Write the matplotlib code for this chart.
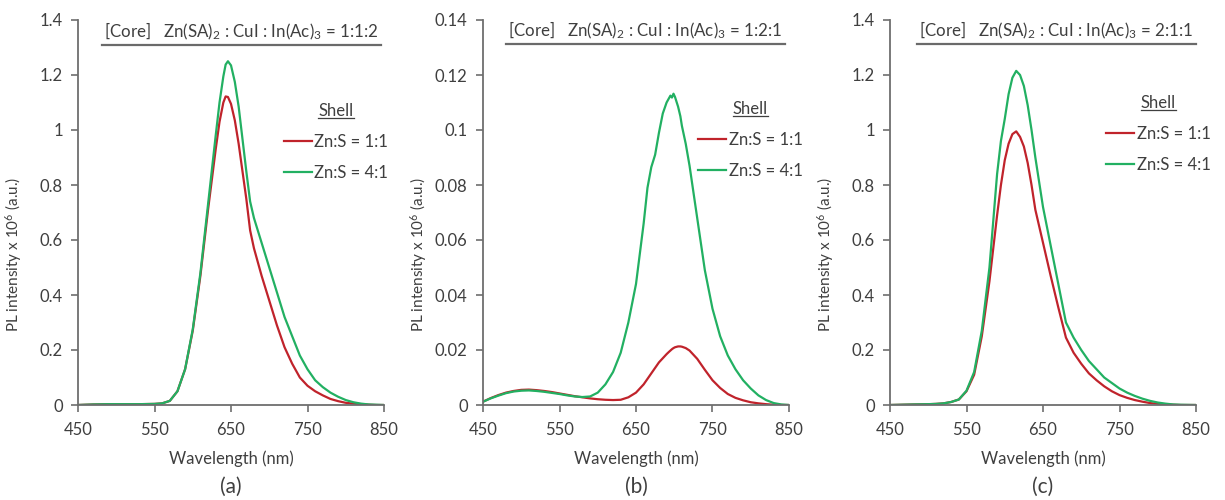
import matplotlib
matplotlib.use("Agg")
import matplotlib.pyplot as plt
from matplotlib.lines import Line2D
from matplotlib.ticker import FuncFormatter, MultipleLocator

plt.rcParams["font.family"] = ["Lato", "DejaVu Sans"]
plt.rcParams["mathtext.fontset"] = "custom"
plt.rcParams["mathtext.rm"] = "Lato"
plt.rcParams["mathtext.it"] = "Lato:italic"
plt.rcParams["mathtext.bf"] = "Lato:bold"

# ---------------- data ----------------
series_labels = ["Zn:S = 1:1", "Zn:S = 4:1"]
panel_tags = ["(a)", "(b)", "(c)"]
core_ratios = ["1:1:2", "1:2:1", "2:1:1"]
x_ticks = [450, 550, 650, 750, 850]

# (a) core 1:1:2
wl_a = [450, 470, 490, 510, 530, 550, 560, 570, 580, 590, 600, 610, 620, 630, 635,
        640, 643, 646, 650, 655, 660, 670, 675, 680, 690, 700, 710, 720, 730, 740,
        750, 760, 770, 780, 790, 800, 810, 820, 830, 840, 850]
red_a = [0.000, 0.002, 0.003, 0.003, 0.003, 0.004, 0.006, 0.015, 0.050, 0.130,
         0.270, 0.470, 0.710, 0.930, 1.030, 1.100, 1.122, 1.120, 1.095, 1.035,
         0.950, 0.750, 0.635, 0.570, 0.470, 0.380, 0.290, 0.210, 0.150, 0.100,
         0.070, 0.050, 0.035, 0.022, 0.014, 0.008, 0.005, 0.003, 0.001, 0.000, 0.000]
green_a = [0.000, 0.002, 0.003, 0.003, 0.003, 0.004, 0.006, 0.015, 0.050, 0.130,
           0.275, 0.480, 0.730, 0.980, 1.100, 1.195, 1.238, 1.250, 1.235, 1.175,
           1.085, 0.850, 0.740, 0.680, 0.590, 0.500, 0.410, 0.320, 0.250, 0.180,
           0.130, 0.090, 0.065, 0.045, 0.030, 0.018, 0.010, 0.005, 0.002, 0.001, 0.000]

# (b) core 1:2:1
wl_b = [450, 460, 470, 480, 490, 500, 510, 520, 530, 540, 550, 560, 570, 580, 590,
        600, 610, 620, 630, 640, 650, 660, 665, 670, 675, 680, 685, 690, 693, 695,
        697, 699, 701, 705, 708, 710, 715, 720, 730, 740, 750, 760, 770, 780, 790,
        800, 810, 820, 830, 840, 850]
red_b = [0.0012, 0.0025, 0.0036, 0.0045, 0.0051, 0.0055, 0.0056, 0.0054, 0.0051,
         0.0047, 0.0042, 0.0037, 0.0032, 0.0028, 0.0024, 0.0021, 0.0019, 0.0018,
         0.0019, 0.0028, 0.0045, 0.0075, 0.0095, 0.0115, 0.0135, 0.0155, 0.0170,
         0.0185, 0.0193, 0.0198, 0.0203, 0.0207, 0.0210, 0.0213, 0.0213, 0.0212,
         0.0207, 0.0198, 0.0168, 0.0128, 0.0090, 0.0062, 0.0040, 0.0026, 0.0017,
         0.0010, 0.0006, 0.0003, 0.0001, 0.0000, 0.0000]
green_b = [0.0012, 0.0024, 0.0034, 0.0043, 0.0049, 0.0052, 0.0053, 0.0051, 0.0048,
           0.0044, 0.0040, 0.0035, 0.0031, 0.0029, 0.0031, 0.0045, 0.0075, 0.0120,
           0.0190, 0.0300, 0.0440, 0.0660, 0.0790, 0.0865, 0.0910, 0.0990, 0.1060,
           0.1100, 0.1115, 0.1125, 0.1118, 0.1132, 0.1120, 0.1085, 0.1050, 0.1015,
           0.0950, 0.0870, 0.0680, 0.0490, 0.0350, 0.0250, 0.0180, 0.0130, 0.0090,
           0.0060, 0.0035, 0.0018, 0.0007, 0.0002, 0.0000]

# (c) core 2:1:1
wl_c = [450, 480, 500, 510, 520, 530, 540, 550, 560, 570, 580, 590, 595, 600, 605,
        610, 615, 620, 625, 630, 635, 640, 645, 650, 660, 670, 680, 690, 700, 710,
        720, 730, 740, 750, 760, 770, 780, 790, 800, 810, 820, 830, 850]
red_c = [0.000, 0.002, 0.003, 0.004, 0.006, 0.011, 0.020, 0.050, 0.110, 0.250,
         0.450, 0.690, 0.800, 0.890, 0.950, 0.985, 0.995, 0.975, 0.940, 0.880,
         0.800, 0.710, 0.650, 0.590, 0.470, 0.355, 0.245, 0.190, 0.150, 0.115,
         0.090, 0.068, 0.050, 0.036, 0.026, 0.018, 0.012, 0.007, 0.004, 0.002,
         0.001, 0.000, 0.000]
green_c = [0.000, 0.002, 0.003, 0.004, 0.006, 0.011, 0.020, 0.052, 0.120, 0.270,
           0.500, 0.840, 0.960, 1.040, 1.130, 1.190, 1.215, 1.200, 1.160, 1.090,
           1.000, 0.900, 0.810, 0.720, 0.580, 0.440, 0.300, 0.245, 0.200, 0.160,
           0.130, 0.100, 0.080, 0.060, 0.045, 0.033, 0.023, 0.015, 0.009, 0.005,
           0.002, 0.001, 0.000]

panels = [
    (wl_a, red_a, green_a, 1.4, 0.2),
    (wl_b, red_b, green_b, 0.14, 0.02),
    (wl_c, red_c, green_c, 1.4, 0.2),
]

RED = "#C0232B"
GREEN = "#22B062"
TXT = "#3f3f3f"
AX = "#6e6e6e"

W, H = 1225, 500
fig = plt.figure(figsize=(W / 100, H / 100), dpi=100)

ax_left_px = [78, 483, 890]
ax_w_px = 306
ax_bot_px, ax_h_px = 95, 385
title_pos = [(0.534, 0.971), (0.531, 0.974), (0.544, 0.974)]
legend_pos = [(0.672, 0.785), (0.703, 0.79), (0.705, 0.805)]

titles, legends = [], []
for i, (wl, r, g, ymax, ystep) in enumerate(panels):
    ax = fig.add_axes([ax_left_px[i] / W, ax_bot_px / H, ax_w_px / W, ax_h_px / H])
    l1, = ax.plot(wl, r, color=RED, lw=1.6, label=series_labels[0])
    l2, = ax.plot(wl, g, color=GREEN, lw=1.6, label=series_labels[1])
    ax.set_xlim(450, 850)
    ax.set_ylim(0, ymax)
    ax.set_xticks(x_ticks)
    ax.yaxis.set_major_locator(MultipleLocator(ystep))
    ax.yaxis.set_major_formatter(FuncFormatter(lambda v, p: f"{v:.10g}" if abs(v) > 1e-12 else "0"))
    for s in ("top", "right"):
        ax.spines[s].set_visible(False)
    for s in ("left", "bottom"):
        ax.spines[s].set_color(AX)
        ax.spines[s].set_linewidth(1.3)
    ax.tick_params(direction="out", length=5, width=1.2, color=AX,
                   labelsize=12, labelcolor=TXT)
    ax.tick_params(axis="x", pad=7)
    ax.tick_params(axis="y", pad=6)
    ax.set_xlabel("Wavelength (nm)", fontsize=12, color=TXT, labelpad=9)
    ax.set_ylabel("PL intensity x 10$^6$ (a.u.)", fontsize=11, color=TXT)
    ax.yaxis.set_label_coords(-0.175, 0.39)

    t = ax.text(*title_pos[i],
                "[Core]   Zn(SA)$_2$ : CuI : In(Ac)$_3$ = " + core_ratios[i],
                transform=ax.transAxes, ha="center", va="center",
                fontsize=12.2, color=TXT)
    titles.append(t)

    leg = ax.legend(handles=[l1, l2], title="Shell", frameon=False,
                    loc="upper left", bbox_to_anchor=legend_pos[i],
                    borderaxespad=0, borderpad=0, fontsize=12,
                    title_fontsize=12, handlelength=1.7, handletextpad=0.15,
                    labelspacing=0.9, labelcolor=TXT)
    leg.get_title().set_color(TXT)
    legends.append(leg)

    fig.text((ax_left_px[i] + ax_w_px / 2) / W, 0.026, panel_tags[i],
             ha="center", va="center", fontsize=15, color=TXT)

# underline the panel titles and the legend headings
fig.canvas.draw()
renderer = fig.canvas.get_renderer()
for t in titles:
    bb = t.get_window_extent(renderer)
    y = bb.y0 - 3
    fig.add_artist(Line2D([(bb.x0 - 2) / W, (bb.x1 + 2) / W], [y / H, y / H],
                          transform=fig.transFigure, color="#6a6a6a", lw=1.6))
for leg in legends:
    bb = leg.get_title().get_window_extent(renderer)
    y = bb.y0 + 1
    fig.add_artist(Line2D([bb.x0 / W, bb.x1 / W], [y / H, y / H],
                          transform=fig.transFigure, color=TXT, lw=0.9))

fig.savefig("out.png", dpi=100, facecolor="white")
